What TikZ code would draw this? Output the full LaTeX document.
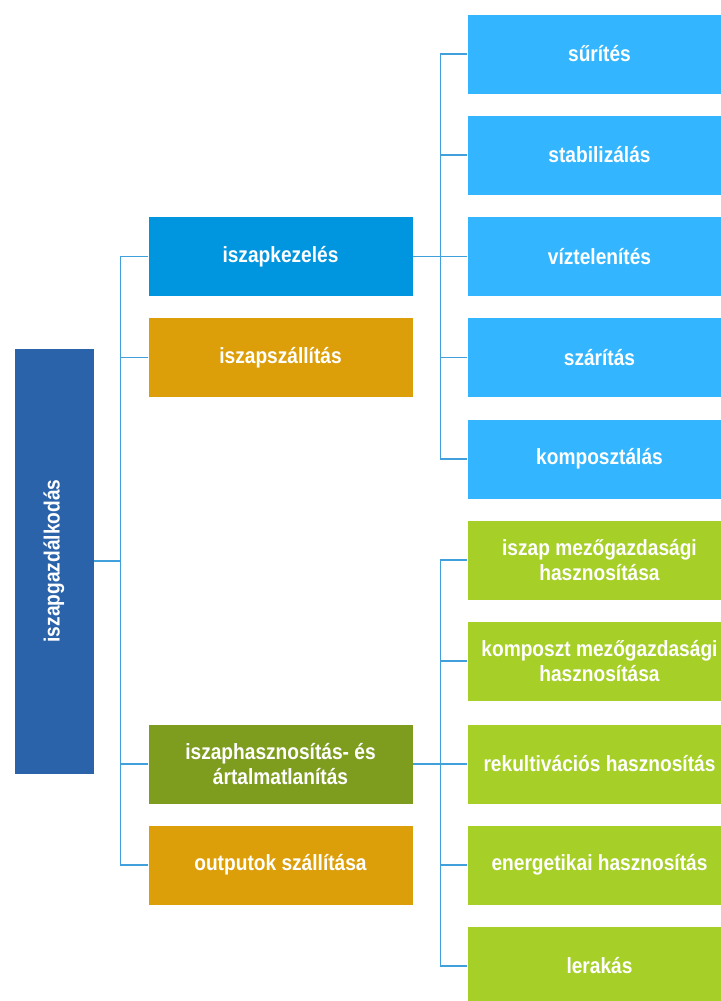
\documentclass[tikz,border=0pt]{standalone}
\usepackage{fontspec}
\setmainfont[FakeStretch=0.87]{Liberation Sans}
\definecolor{rootblue}{HTML}{2B63AB}
\definecolor{midblue}{HTML}{0095DF}
\definecolor{skyblue}{HTML}{33B6FF}
\definecolor{ochre}{HTML}{DC9F0A}
\definecolor{olive}{HTML}{7E9D1F}
\definecolor{lime}{HTML}{A6CF28}
\definecolor{linkblue}{HTML}{3FA0DC}
\begin{document}
\begin{tikzpicture}[x=0.75pt,y=-0.75pt,
  box/.style={draw=white,line width=0.5pt,text=white,
    font=\bfseries\fontsize{16.5}{18.5}\selectfont,align=center,
    minimum width=198.75pt,minimum height=60pt,inner sep=0pt},
  conn/.style={draw=linkblue,line width=1pt}]
  \useasboundingbox (0,0) rectangle (721,1001);

  \node[box,fill=rootblue,rotate=90,minimum width=319.5pt,minimum height=60pt] (root) at (54,561) {iszapgazdálkodás};

  \node[box,fill=midblue] (kez) at (280.5,256.5) {iszapkezelés};
  \node[box,fill=ochre] (szall) at (280.5,357.5) {iszapszállítás};
  \node[box,fill=olive] (hasz) at (280.5,764) {iszaphasznosítás- és\\ártalmatlanítás};
  \node[box,fill=ochre] (out) at (280.5,865) {outputok szállítása};

  \node[box,fill=skyblue] (suri) at (599.5,54) {sűrítés};
  \node[box,fill=skyblue] (stab) at (599.5,155) {stabilizálás};
  \node[box,fill=skyblue] (vizt) at (599.5,256.5) {víztelenítés};
  \node[box,fill=skyblue] (szar) at (599.5,357.5) {szárítás};
  \node[box,fill=skyblue] (komp) at (599.5,459) {komposztálás};

  \node[box,fill=lime] (mezo) at (599.5,560) {iszap mezőgazdasági\\hasznosítása};
  \node[box,fill=lime] (kmezo) at (599.5,661) {komposzt mezőgazdasági\\hasznosítása};
  \node[box,fill=lime] (rekult) at (599.5,764) {rekultivációs hasznosítás};
  \node[box,fill=lime] (energ) at (599.5,865) {energetikai hasznosítás};
  \node[box,fill=lime] (lerak) at (599.5,966) {lerakás};

  \draw[conn] (root.south) -- ++(26,0) |- (kez.west);
  \draw[conn] (root.south) -- ++(26,0) |- (szall.west);
  \draw[conn] (root.south) -- ++(26,0) |- (hasz.west);
  \draw[conn] (root.south) -- ++(26,0) |- (out.west);

  \draw[conn] (kez.east) -- ++(27,0) |- (suri.west);
  \draw[conn] (kez.east) -- ++(27,0) |- (stab.west);
  \draw[conn] (kez.east) -- ++(27,0) |- (vizt.west);
  \draw[conn] (kez.east) -- ++(27,0) |- (szar.west);
  \draw[conn] (kez.east) -- ++(27,0) |- (komp.west);

  \draw[conn] (hasz.east) -- ++(27,0) |- (mezo.west);
  \draw[conn] (hasz.east) -- ++(27,0) |- (kmezo.west);
  \draw[conn] (hasz.east) -- ++(27,0) |- (rekult.west);
  \draw[conn] (hasz.east) -- ++(27,0) |- (energ.west);
  \draw[conn] (hasz.east) -- ++(27,0) |- (lerak.west);
\end{tikzpicture}
\end{document}
